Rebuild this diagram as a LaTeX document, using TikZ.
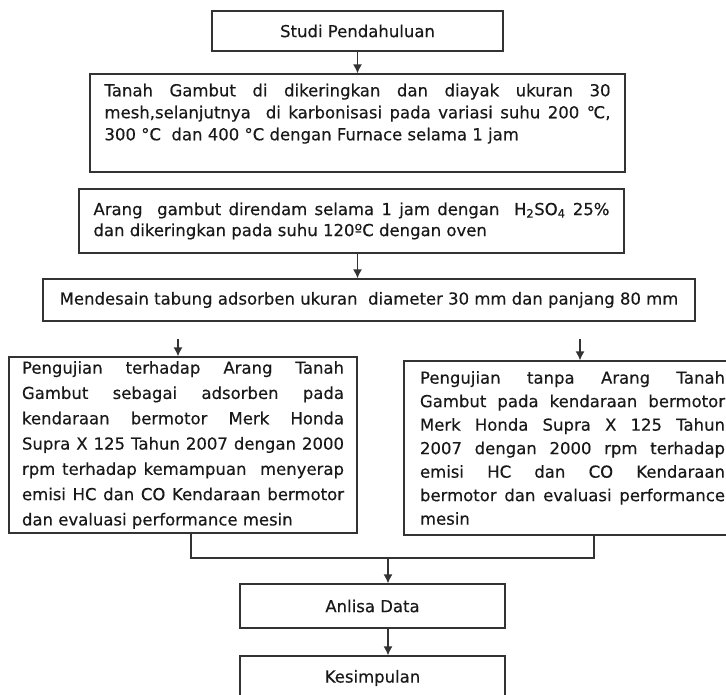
\documentclass[tikz,border=0pt]{standalone}
\usepackage{fontspec}
\setmainfont{DejaVu Sans}[FakeBold=0.35]
\usetikzlibrary{arrows.meta}

\tikzset{
  kotak/.style={draw=black!80, line width=1.3pt, inner sep=0pt, text=black!90,
    font=\fontsize{16.5}{22}\selectfont},
  garis/.style={draw=black!80, line width=1.3pt},
  panah/.style={garis, -{Latex[length=9pt,width=9pt]}},
}

\begin{document}
\begin{tikzpicture}[x=1pt,y=-1pt]
\useasboundingbox (0,0) rectangle (726,694);
\clip (0,0) rectangle (726,694);

\node[kotak, minimum width=291pt, minimum height=40pt] (studi) at (357.5,31) {Studi Pendahuluan};

\node[kotak, minimum width=535pt, minimum height=98pt, text width=506pt, align=justify] (tanah) at (357.5,123)
  {Tanah Gambut di dikeringkan dan diayak ukuran 30\linebreak
   mesh,selanjutnya \ di karbonisasi pada variasi suhu 200 ℃,\linebreak
   300 °C \ dan 400 °C dengan Furnace selama 1 jam\par\mbox{}};

\node[kotak, minimum width=545pt, minimum height=64pt, text width=516pt, align=justify,
  font=\fontsize{16.5}{21}\selectfont] (arang) at (351.5,221)
  {Arang \ gambut direndam selama 1 jam dengan \ H\textsubscript{2}SO\textsubscript{4} 25\%\linebreak
   dan dikeringkan pada suhu 120ºC dengan oven};

\node[kotak, minimum width=652pt, minimum height=42pt] (desain) at (369,300)
  {Mendesain tabung adsorben ukuran \ diameter 30 mm dan panjang 80 mm};

\node[kotak, minimum width=348pt, minimum height=176pt, text width=322pt, align=justify,
  font=\fontsize{16.5}{25.3}\selectfont] (ujiA) at (183,445)
  {Pengujian terhadap Arang Tanah\linebreak
   Gambut sebagai adsorben pada\linebreak
   kendaraan bermotor Merk Honda\linebreak
   Supra X 125 Tahun 2007 dengan 2000\linebreak
   rpm terhadap kemampuan \ menyerap\linebreak
   emisi HC dan CO Kendaraan bermotor\linebreak
   dan evaluasi performance mesin};

\node[kotak, minimum width=337pt, minimum height=174pt, text width=305pt, align=justify,
  font=\fontsize{16.5}{23.5}\selectfont] (ujiB) at (572.5,448)
  {Pengujian tanpa Arang Tanah\linebreak
   Gambut pada kendaraan bermotor\linebreak
   Merk Honda Supra X 125 Tahun\linebreak
   2007 dengan 2000 rpm terhadap\linebreak
   emisi HC dan CO Kendaraan\linebreak
   bermotor dan evaluasi performance\linebreak
   mesin};

\node[kotak, minimum width=265pt, minimum height=44pt] (analisa) at (372.5,606) {Anlisa Data};
\node[kotak, minimum width=265pt, minimum height=44pt] (simpul) at (372.5,678) {Kesimpulan};

% panah
\coordinate (kiri) at (178,339);
\coordinate (kanan) at (580,339);
\coordinate (gabungA) at (191,558);
\coordinate (gabungB) at (594,558);
\coordinate (tengah) at (388,558);

\draw[panah] (studi) -- (tanah);
\draw[panah] (studi.south |- arang.south) -- (studi.south |- desain.north);
\draw[panah] (kiri) -- (kiri |- ujiA.north);
\draw[panah] (kanan) -- (kanan |- ujiB.north);
\draw[garis] (ujiA.south -| gabungA) -- (gabungA) -- (gabungB) -- (ujiB.south -| gabungB);
\draw[panah] (tengah) -- (tengah |- analisa.north);
\draw[panah] (tengah |- analisa.south) -- (tengah |- simpul.north);
\end{tikzpicture}
\end{document}
